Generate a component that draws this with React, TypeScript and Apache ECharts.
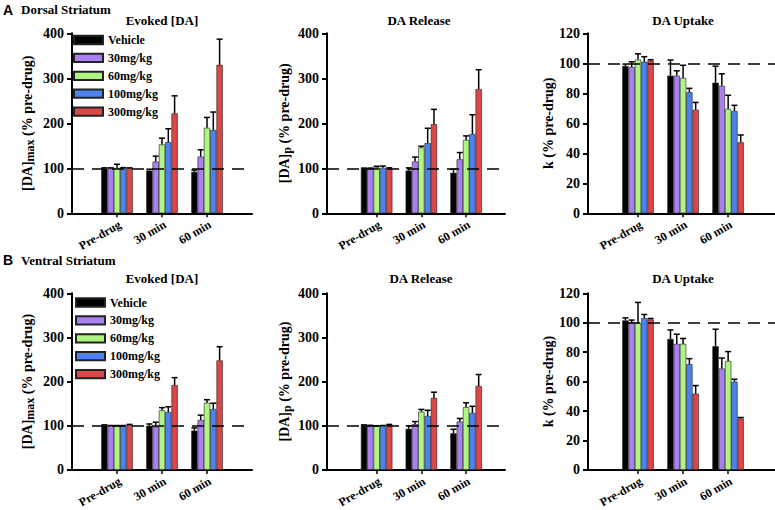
import React, { useEffect, useRef } from 'react';
import * as echarts from 'echarts';

const categories = ['Pre-drug', '30 min', '60 min'];
const doses = ['Vehicle', '30mg/kg', '60mg/kg', '100mg/kg', '300mg/kg'];
const doseColors = ['#000000', '#a97ff2', '#aef581', '#4d82ec', '#dc4646'];

// Each row = one dose, values for [Pre-drug, 30 min, 60 min]
const dorsalEvokedMean = [
  [100, 95, 92],
  [100, 115, 126],
  [101, 153, 190],
  [100, 158, 185],
  [100, 222, 330],
];
const dorsalEvokedSem = [
  [1, 3, 4],
  [1, 12, 15],
  [8, 14, 23],
  [1.5, 30, 40],
  [1, 39, 57],
];
const dorsalReleaseMean = [
  [100, 95, 90],
  [100, 115, 120],
  [102, 146, 163],
  [101, 156, 176],
  [100, 198, 276],
];
const dorsalReleaseSem = [
  [0.5, 6, 8],
  [0.5, 10, 15],
  [2.5, 3, 9],
  [4, 33, 43],
  [1, 33, 43],
];
const dorsalUptakeMean = [
  [98.2, 91.8, 87.1],
  [97.5, 91.8, 85],
  [102.5, 90.2, 69.6],
  [101, 80.7, 68.2],
  [101.8, 69, 47.3],
];
const dorsalUptakeSem = [
  [1.3, 10.4, 11],
  [3.5, 3.2, 8],
  [3.8, 8.5, 9.1],
  [3.4, 2.6, 3.8],
  [0.6, 4.9, 4.9],
];
const ventralEvokedMean = [
  [101.5, 100, 89],
  [100, 98, 113],
  [100, 135, 152],
  [100, 131, 138],
  [101.5, 192, 248],
];
const ventralEvokedSem = [
  [0.5, 4, 6],
  [0.5, 10, 11],
  [0.5, 6, 7],
  [0.5, 12, 13],
  [1.5, 17, 31],
];
const ventralReleaseMean = [
  [101.5, 93, 83],
  [100.5, 103.5, 109.5],
  [99.5, 132, 142],
  [100, 122, 129],
  [101.5, 163, 190],
];
const ventralReleaseSem = [
  [0.5, 7, 9],
  [0.5, 6, 7],
  [0.5, 5, 10],
  [0.5, 13, 15],
  [1.5, 13, 26],
];
const ventralUptakeMean = [
  [101.6, 88.9, 84],
  [100.4, 85.6, 68.9],
  [100, 85.6, 74],
  [103.1, 71.8, 60],
  [102.2, 51.8, 34.9],
];
const ventralUptakeSem = [
  [1.7, 6.2, 11.6],
  [1.4, 6.6, 7.1],
  [13.8, 3.7, 6.4],
  [2.5, 3.8, 1.6],
  [0.7, 5.5, 0.7],
];

const SERIF = "'Liberation Serif', 'Times New Roman', serif";
const SANS = "'Liberation Sans', Arial, sans-serif";
const BAR_W = 6.3;
const CAP_W = 6;
const BASELINE = 100;

type Panel = {
  title: string;
  titleX: number;
  mean: number[][];
  sem: number[][];
  left: number;
  width: number;
  top: number;
  xMin: number;
  xMax: number;
  yMax: number;
  yInterval: number;
  name: string;
  nameGap: number;
};

const TOP_Y = 33.3;
const BOT_Y = 293.3;
const GRID_H = 180;

const nameDA = (sub: string) => `{m|[DA]}{s|${sub}}{m| (% pre-drug)}`;

const panels: Panel[] = [
  { title: 'Evoked [DA]', titleX: 162, mean: dorsalEvokedMean, sem: dorsalEvokedSem, left: 72, width: 180, top: TOP_Y, xMin: 0, xMax: 4, yMax: 400, yInterval: 100, name: nameDA('max'), nameGap: 36 },
  { title: 'DA Release', titleX: 419, mean: dorsalReleaseMean, sem: dorsalReleaseSem, left: 327, width: 178, top: TOP_Y, xMin: -0.11, xMax: 3.87, yMax: 400, yInterval: 100, name: nameDA('p'), nameGap: 34 },
  { title: 'DA Uptake', titleX: 683, mean: dorsalUptakeMean, sem: dorsalUptakeSem, left: 588, width: 187, top: TOP_Y, xMin: -0.11, xMax: 4.04, yMax: 120, yInterval: 20, name: '{m|k (% pre-drug)}', nameGap: 28 },
  { title: 'Evoked [DA]', titleX: 162, mean: ventralEvokedMean, sem: ventralEvokedSem, left: 72, width: 180, top: BOT_Y, xMin: 0, xMax: 4, yMax: 400, yInterval: 100, name: nameDA('max'), nameGap: 36 },
  { title: 'DA Release', titleX: 421, mean: ventralReleaseMean, sem: ventralReleaseSem, left: 327, width: 178, top: BOT_Y, xMin: -0.11, xMax: 3.87, yMax: 400, yInterval: 100, name: nameDA('p'), nameGap: 34 },
  { title: 'DA Uptake', titleX: 683, mean: ventralUptakeMean, sem: ventralUptakeSem, left: 588, width: 187, top: BOT_Y, xMin: -0.11, xMax: 4.04, yMax: 120, yInterval: 20, name: '{m|k (% pre-drug)}', nameGap: 28 },
];

function buildOption() {
  const grid = panels.map((p) => ({ left: p.left, top: p.top, width: p.width, height: GRID_H }));
  const xAxis = panels.map((p, i) => ({
    gridIndex: i,
    type: 'value',
    min: p.xMin,
    max: p.xMax,
    splitLine: { show: false },
    axisLine: { show: true, onZero: false, lineStyle: { color: '#000', width: 2 } },
    axisTick: { show: true, customValues: [1, 2, 3], length: 4, lineStyle: { color: '#000', width: 1.5 } },
    axisLabel: {
      customValues: [1, 2, 3],
      rotate: 30,
      margin: 5,
      verticalAlign: 'top',
      color: '#000',
      fontFamily: SERIF,
      fontWeight: 'bold',
      fontSize: 12,
      formatter: (v: number) => categories[Math.round(v) - 1] ?? '',
    },
  }));
  const yAxis = panels.map((p, i) => ({
    gridIndex: i,
    type: 'value',
    min: 0,
    max: p.yMax,
    interval: p.yInterval,
    splitLine: { show: false },
    axisLine: { show: true, onZero: false, lineStyle: { color: '#000', width: 2 } },
    axisTick: { show: true, length: 5, lineStyle: { color: '#000', width: 2 } },
    axisLabel: { color: '#000', fontFamily: SERIF, fontWeight: 'bold', fontSize: 14, margin: 8 },
    name: p.name,
    nameLocation: 'middle',
    nameRotate: 90,
    nameGap: p.nameGap,
    nameTextStyle: {
      rich: {
        m: { fontFamily: SERIF, fontWeight: 'bold', fontSize: 14, color: '#000', lineHeight: 18, verticalAlign: 'middle' },
        s: { fontFamily: SERIF, fontWeight: 'bold', fontSize: 12, color: '#000', lineHeight: 18, verticalAlign: 'bottom' },
      },
    },
  }));

  const series: any[] = [];
  panels.forEach((p, i) => {
    doses.forEach((d, j) => {
      series.push({
        type: 'bar',
        name: d,
        xAxisIndex: i,
        yAxisIndex: i,
        data: categories.map((_, k) => [k + 1, p.mean[j][k]]),
        barWidth: BAR_W,
        barGap: '0%',
        itemStyle: { color: doseColors[j], borderColor: '#222', borderWidth: 0.6 },
        z: 2,
        markLine:
          j === 0
            ? {
                silent: true,
                symbol: 'none',
                label: { show: false },
                lineStyle: { color: '#000', width: 1.6, type: [12, 8] },
                data: [{ yAxis: BASELINE }],
              }
            : undefined,
      });
      const offset = (j - 2) * BAR_W;
      series.push({
        type: 'custom',
        xAxisIndex: i,
        yAxisIndex: i,
        silent: true,
        z: 3,
        data: categories.map((_, k) => [k + 1, p.mean[j][k], p.mean[j][k] + p.sem[j][k]]),
        renderItem: (params: any, api: any) => {
          const x = api.value(0);
          const v = api.value(1);
          const e = api.value(2);
          const p0 = api.coord([x, v]);
          const p1 = api.coord([x, e]);
          const cx = p0[0] + offset;
          const st = { stroke: '#000', lineWidth: 1.5 };
          return {
            type: 'group',
            children: [
              { type: 'line', shape: { x1: cx, y1: p0[1], x2: cx, y2: p1[1] }, style: st },
              { type: 'line', shape: { x1: cx - CAP_W / 2, y1: p1[1], x2: cx + CAP_W / 2, y2: p1[1] }, style: st },
            ],
          };
        },
      });
    });
  });

  const legendCommon = {
    orient: 'vertical',
    data: doses,
    icon: 'rect',
    itemWidth: 29,
    itemHeight: 8.3,
    itemGap: 5.9,
    selectedMode: false,
    textStyle: { fontFamily: SERIF, fontWeight: 'bold', fontSize: 12, color: '#000', lineHeight: 8 },
    padding: 0,
  };

  const txt = (text: string, x: number, y: number, align: string, size: number, family: string) => ({
    type: 'text',
    x,
    y,
    silent: true,
    style: {
      text,
      align,
      textAlign: align,
      verticalAlign: 'middle',
      textVerticalAlign: 'middle',
      fontFamily: family,
      fontWeight: 'bold',
      fontSize: size,
      fill: '#000',
    },
  });

  const graphic: any[] = [
    txt('A', 3, 9.5, 'left', 14, SANS),
    txt('Dorsal Striatum', 21, 9.5, 'left', 13, SERIF),
    txt('B', 3, 260, 'left', 14, SANS),
    txt('Ventral Striatum', 21, 260, 'left', 13, SERIF),
  ];
  panels.forEach((p) => {
    graphic.push(txt(p.title, p.titleX, p.top === TOP_Y ? 20.5 : 278, 'center', 13, SERIF));
  });

  return {
    animation: false,
    backgroundColor: '#ffffff',
    grid,
    xAxis,
    yAxis,
    legend: [
      { ...legendCommon, left: 73, top: 34 },
      { ...legendCommon, left: 75, top: 296.5 },
    ],
    graphic,
    series,
  };
}

export default function App() {
  const ref = useRef<HTMLDivElement>(null);
  useEffect(() => {
    if (!ref.current) return;
    const chart = echarts.init(ref.current, undefined, { renderer: 'svg' });
    chart.setOption(buildOption() as any);
    return () => chart.dispose();
  }, []);
  return (
    <div
      ref={ref}
      style={{ position: 'fixed', left: 0, top: 0, width: 775, height: 510, background: '#fff' }}
    />
  );
}
